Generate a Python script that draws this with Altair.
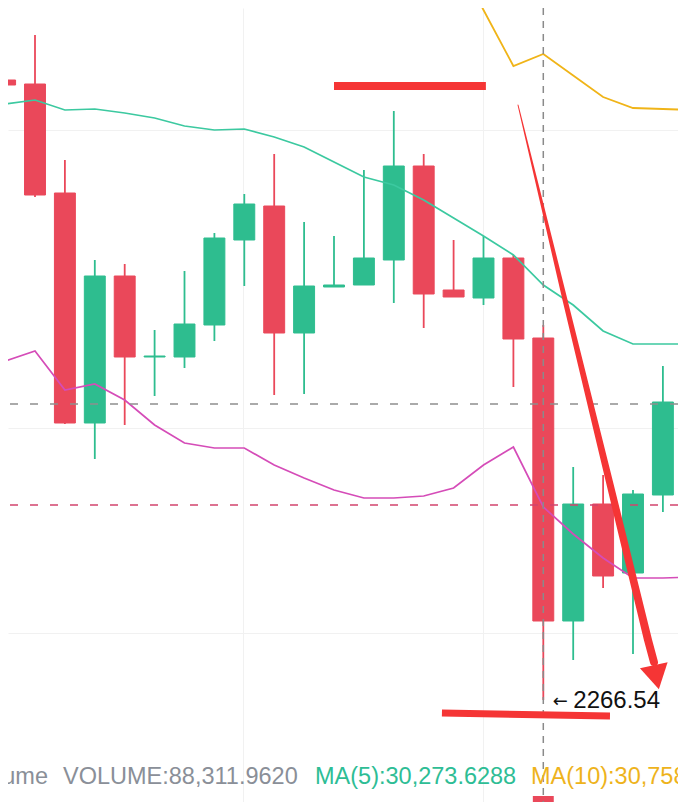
import altair as alt
import pandas as pd

# ---------------- data ----------------
idx = list(range(24))
opens = [2390.54, 2389.74, 2367.94, 2321.94, 2351.34, 2335.14, 2335.14, 2341.54,
         2358.54, 2365.34, 2339.94, 2349.14, 2349.54, 2354.54, 2373.34, 2348.54,
         2346.94, 2354.94, 2338.94, 2282.34, 2305.74, 2291.94, 2307.54, 2325.94]
closes = [2389.54, 2367.54, 2321.94, 2351.34, 2335.14, 2335.34, 2341.74, 2358.94,
          2365.74, 2339.94, 2349.34, 2349.54, 2354.94, 2373.34, 2347.74, 2347.14,
          2354.94, 2338.74, 2282.34, 2305.74, 2291.34, 2307.74, 2326.14, 2346.54]
highs = [2399.54, 2399.54, 2374.54, 2354.54, 2353.74, 2340.54, 2352.34, 2359.94,
         2367.74, 2375.74, 2362.14, 2359.34, 2372.54, 2384.34, 2375.74, 2358.54,
         2359.34, 2355.54, 2341.54, 2313.14, 2311.54, 2308.54, 2333.34, 2350.14]
lows = [2382.54, 2367.14, 2321.74, 2314.74, 2321.54, 2327.34, 2332.94, 2338.34,
        2349.34, 2327.54, 2327.74, 2349.14, 2349.54, 2345.94, 2340.94, 2347.14,
        2345.54, 2329.14, 2266.54, 2274.54, 2288.94, 2275.74, 2304.14, 2323.34]

# moving-average style lines
teal_line = [2385.74, 2386.54, 2384.54, 2384.74, 2383.94, 2382.94, 2381.34, 2380.54,
             2380.74, 2379.14, 2377.14, 2374.14, 2371.14, 2369.54, 2366.54, 2362.94,
             2359.34, 2355.54, 2349.54, 2345.54, 2340.34, 2337.74, 2337.74, 2337.74]
magenta_line = [2334.34, 2336.34, 2328.54, 2329.74, 2326.54, 2321.54, 2317.94, 2316.94,
                2316.94, 2313.54, 2310.94, 2308.54, 2306.94, 2306.94, 2307.34, 2308.94,
                2313.54, 2317.14, 2305.14, 2299.74, 2294.94, 2290.94, 2290.94, 2291.14]
orange_idx = [15, 16, 17, 18, 19, 20, 21, 22, 23]
orange_line = [2416.14, 2404.54, 2393.34, 2395.74, 2391.44, 2387.14, 2384.94, 2384.74, 2384.54]

# reference price lines and crosshair
grey_dash_price = [2325.74]
red_dash_price = [2305.54]
crosshair_idx = [18]
low_label_idx = [18]
low_label_price = [2266.54]
low_label_text = ["2266.54"]

# volume pane (partially visible)
vol_idx = [18]
vol_top = [2247.34]
vol_base = [2200.0]

# hand-drawn annotations
ann_top_x = [11.0, 16.08]
ann_top_y = [2389.34, 2389.34]
ann_bot_x = [14.61, 20.23]
ann_bot_y = [2263.94, 2263.34]
arrow_x = [17.154, 17.923, 18.726, 20.197, 21.502, 21.70]
arrow_y = [2385.54, 2366.54, 2346.54, 2310.54, 2278.54, 2274.14]
arrow_w = [1.0, 3.0, 5.0, 7.0, 8.0, 8.0]
arrow_head_x = [21.78]
arrow_head_y = [2271.10]

# bottom legend strings
legend_prefix = "Volume"
legend_volume = "VOLUME:88,311.9620"
legend_ma5 = "MA(5):30,273.6288"
legend_ma10 = "MA(10):30,758"

# grid positions
grid_x = [7.96, 15.98]
grid_y = [2380.54, 2320.94, 2279.94]

# ---------------- colours ----------------
GREEN = "#2ebd8f"
RED = "#ea485a"
TEAL = "#3cc9a0"
MAGENTA = "#d54cb8"
ORANGE = "#f0b418"
ANN_RED = "#f53535"

# ---------------- scales ----------------
xscale = alt.Scale(domain=[0.097, 22.505], nice=False, zero=False)
yscale = alt.Scale(domain=[2246.14, 2404.94], nice=False, zero=False)
xaxis = alt.Axis(values=grid_x, labels=False, ticks=False, domain=False, title=None,
                 grid=True, gridColor="#f1f1f1", gridWidth=1)
yaxis = alt.Axis(values=grid_y, labels=False, ticks=False, domain=False, title=None,
                 grid=True, gridColor="#f1f1f1", gridWidth=1)


def X(f):
    return alt.X(f, type="quantitative", scale=xscale, axis=xaxis)


def Y(f):
    return alt.Y(f, type="quantitative", scale=yscale, axis=yaxis)


candles = pd.DataFrame({"i": idx, "open": opens, "close": closes, "high": highs, "low": lows})
color_enc = alt.Color("dir:N", scale=alt.Scale(domain=["up", "down"], range=[GREEN, RED]), legend=None)

base = alt.Chart(candles).transform_calculate(
    dir="datum.close >= datum.open ? 'up' : 'down'",
    x1="datum.i - 0.35",
    x2="datum.i + 0.35",
)
wicks = base.mark_rule(strokeWidth=1.8, clip=True).encode(
    x=X("i"), y=Y("low"), y2="high", color=color_enc)
bodies = base.mark_rect(strokeWidth=1, clip=True).encode(
    x=X("x1:Q"), x2="x2:Q", y=Y("open"), y2="close", color=color_enc, stroke=color_enc)

vol = alt.Chart(pd.DataFrame({"i": vol_idx, "top": vol_top, "base": vol_base})).transform_calculate(
    x1="datum.i - 0.35", x2="datum.i + 0.35"
).mark_rect(color=RED, clip=True).encode(x=X("x1:Q"), x2="x2:Q", y=Y("top"), y2="base")

teal = alt.Chart(pd.DataFrame({"i": idx, "v": teal_line})).mark_line(
    color=TEAL, strokeWidth=1.7, clip=True).encode(x=X("i"), y=Y("v"))
magenta = alt.Chart(pd.DataFrame({"i": idx, "v": magenta_line})).mark_line(
    color=MAGENTA, strokeWidth=1.7, clip=True).encode(x=X("i"), y=Y("v"))
orange = alt.Chart(pd.DataFrame({"i": orange_idx, "v": orange_line})).mark_line(
    color=ORANGE, strokeWidth=1.8, clip=True).encode(x=X("i"), y=Y("v"))

grey_dash = alt.Chart(pd.DataFrame({"p": grey_dash_price})).mark_rule(
    color="#8e8e8e", strokeWidth=1.5, strokeDash=[8, 12]).encode(y=Y("p"))
red_dash = alt.Chart(pd.DataFrame({"p": red_dash_price})).mark_rule(
    color="#d2446e", strokeWidth=1.5, strokeDash=[8, 12]).encode(y=Y("p"))
crosshair = alt.Chart(pd.DataFrame({"i": crosshair_idx})).mark_rule(
    color="#8a8a8a", strokeWidth=1.5, strokeDash=[7, 6]).encode(x=X("i"))

ann_top = alt.Chart(pd.DataFrame({"x": [ann_top_x[0]], "x2": [ann_top_x[1]],
                                  "y": [ann_top_y[0]], "y2": [ann_top_y[1]]})).mark_rule(
    color=ANN_RED, strokeWidth=8, strokeCap="butt").encode(x=X("x"), x2="x2", y=Y("y"), y2="y2")
ann_bot = alt.Chart(pd.DataFrame({"x": [ann_bot_x[0]], "x2": [ann_bot_x[1]],
                                  "y": [ann_bot_y[0]], "y2": [ann_bot_y[1]]})).mark_rule(
    color=ANN_RED, strokeWidth=7, strokeCap="butt").encode(x=X("x"), x2="x2", y=Y("y"), y2="y2")
arrow = alt.Chart(pd.DataFrame({"x": arrow_x, "y": arrow_y, "w": arrow_w})).mark_trail(
    color=ANN_RED, clip=True).encode(x=X("x"), y=Y("y"),
                                     size=alt.Size("w:Q", scale=None, legend=None))
arrow_head = alt.Chart(pd.DataFrame({"x": arrow_head_x, "y": arrow_head_y})).mark_point(
    shape="triangle-down", filled=True, color=ANN_RED, opacity=1, size=800, angle=348).encode(
    x=X("x"), y=Y("y"))

low_df = pd.DataFrame({"i": low_label_idx, "p": low_label_price, "t": low_label_text})
low_arrow = alt.Chart(low_df).mark_text(
    text="←", font="DejaVu Sans", fontSize=18, color="#111111", align="center",
    baseline="middle", dx=17, dy=2).encode(x=X("i"), y=Y("p"))
low_text = alt.Chart(low_df).mark_text(
    font="Liberation Sans", fontSize=24, color="#111111", align="left",
    baseline="middle", dx=30, dy=1).encode(x=X("i"), y=Y("p"), text="t:N")


def legend_text(s, color, px, align="left"):
    return alt.Chart(pd.DataFrame({"t": [s]})).mark_text(
        font="Liberation Sans", fontSize=23.5, color=color, align=align,
        baseline="alphabetic").encode(x=alt.value(px), y=alt.value(776), text="t:N")


leg0 = legend_text(legend_prefix, "#8a8f98", 40, "right")
leg1 = legend_text(legend_volume, "#8a8f98", 55)
leg2 = legend_text(legend_ma5, "#2ebd95", 307)
leg3 = legend_text(legend_ma10, "#eeb31c", 523)

chart = alt.layer(
    wicks, bodies, vol, teal, magenta, orange, grey_dash, red_dash, crosshair,
    ann_top, ann_bot, arrow, arrow_head, low_arrow, low_text, leg0, leg1, leg2, leg3,
).properties(
    width=670, height=794, padding=0,
    autosize=alt.AutoSizeParams(type="none"), background="white",
).configure_view(stroke=None)

chart.save("out.html", embed_options={"renderer": "svg", "actions": False})
